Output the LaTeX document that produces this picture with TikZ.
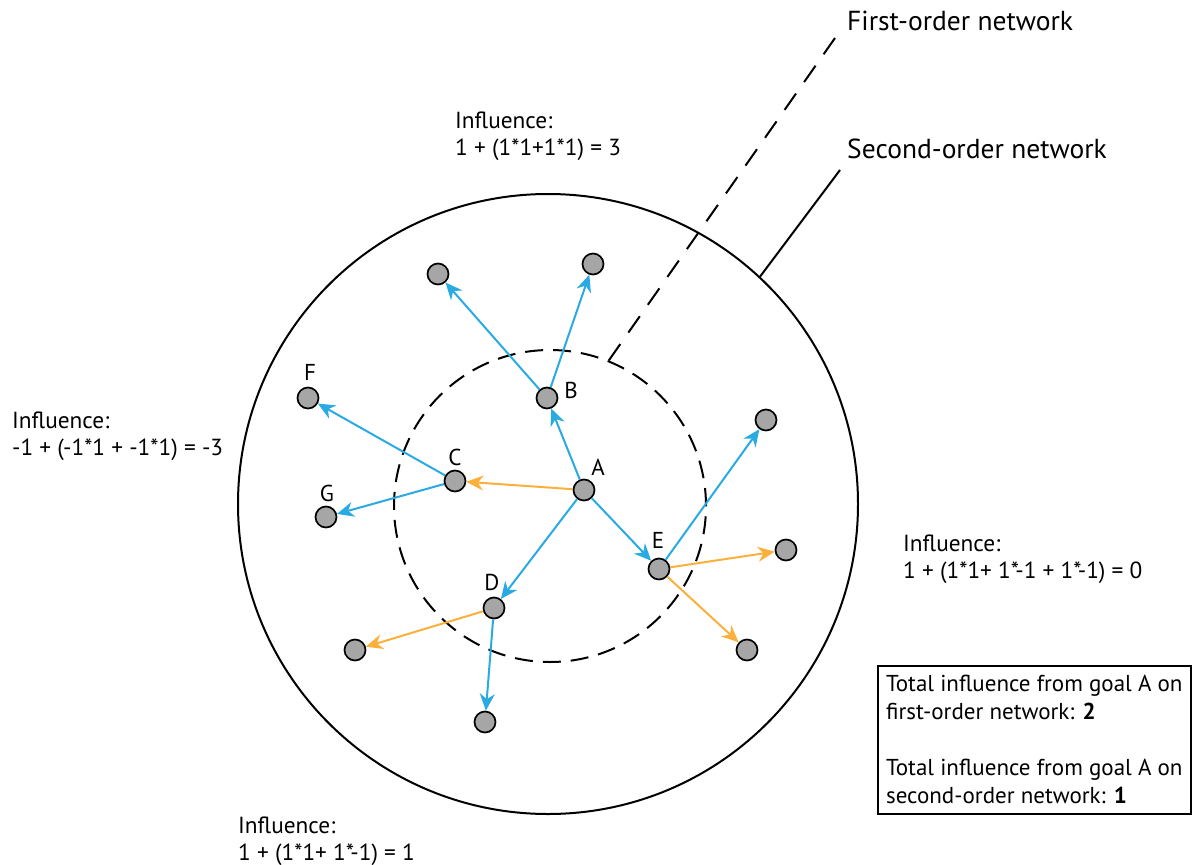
\documentclass[tikz,border=0pt]{standalone}
\usepackage{fontspec}
\setmainfont{PT Sans}
\usetikzlibrary{arrows.meta}
\definecolor{cblue}{RGB}{41,171,226}
\definecolor{corange}{RGB}{251,176,59}
\definecolor{cgrey}{RGB}{166,166,166}
\tikzset{
  goal/.style={circle, draw=black, line width=1.7pt, fill=cgrey, minimum size=21pt, inner sep=0pt},
  lbl/.style={font=\fontsize{23}{28}\selectfont, inner sep=0pt},
  txt/.style={font=\fontsize{23.3}{27}\selectfont, inner sep=0pt, anchor=base west, align=left},
  ttl/.style={font=\fontsize{27.5}{32}\selectfont, inner sep=0pt, anchor=base west},
  link/.style={line width=2pt, -{Stealth[length=17pt, width=15pt, inset=5.5pt]}},
  poslink/.style={link, draw=cblue},
  neglink/.style={link, draw=corange},
  ring/.style={circle, draw=black, line width=2pt, inner sep=0pt},
}
\begin{document}
\begin{tikzpicture}[x=1pt, y=-1pt]
\useasboundingbox (0,0) rectangle (1192,865);
% rings
\node[ring, minimum size=620pt] (outer) at (548,504) {};
\node[ring, minimum size=312pt, dash pattern=on 18pt off 10pt] (inner) at (550,506) {};
\coordinate (firstend) at (835,38);
\coordinate (secondend) at (840,170);
\draw[line width=2pt, dash pattern=on 20pt off 14pt] (inner.68.4) -- (firstend);
\draw[line width=2pt] (outer.47.2) -- (secondend);
% goals
\node[goal] (A) at (584,490) {};
\node[goal] (B) at (547,398) {};
\node[goal] (C) at (455,481) {};
\node[goal] (D) at (494,608) {};
\node[goal] (E) at (659,569) {};
\node[goal] (F) at (308,398) {};
\node[goal] (G) at (326,517) {};
\node[goal] (B1) at (438,274) {};
\node[goal] (B2) at (593,264) {};
\node[goal] (E1) at (766,420) {};
\node[goal] (E2) at (786,550) {};
\node[goal] (E3) at (747,650) {};
\node[goal] (D1) at (355,650) {};
\node[goal] (D2) at (485,722) {};
% labels
\node[lbl] (lA) at (598,467) {A};
\node[lbl] (lB) at (571,390) {B};
\node[lbl] (lC) at (455,457) {C};
\node[lbl] (lD) at (492,582) {D};
\node[lbl] (lE) at (658,540) {E};
\node[lbl] (lF) at (310,372) {F};
\node[lbl] (lG) at (327,493) {G};
% links
\draw[poslink] (A) -- (B);
\draw[neglink] (A) -- (C);
\draw[poslink] (A) -- (D);
\draw[poslink] (A) -- (E);
\draw[poslink] (B) -- (B1);
\draw[poslink] (B) -- (B2);
\draw[poslink] (C) -- (F);
\draw[poslink] (C) -- (G);
\draw[neglink] (D) -- (D1);
\draw[poslink] (D) -- (D2);
\draw[poslink] (E) -- (E1);
\draw[neglink] (E) -- (E2);
\draw[neglink] (E) -- (E3);
% texts (base anchor = baseline of last line)
\node[txt] (tB) at (455,155) {Influence:\\1 + (1*1+1*1) = 3};
\node[txt] (tC) at (12,455) {Influence:\\-1 + (-1*1 + -1*1) = -3};
\node[txt] (tE) at (903,578) {Influence:\\1 + (1*1+ 1*-1 + 1*-1) = 0};
\node[txt] (tD) at (238,860) {Influence:\\1 + (1*1+ 1*-1) = 1};
\node[ttl] (first) at (847,30) {First-order network};
\node[ttl] (second) at (847,158) {Second-order network};
\node[draw=black, line width=1.6pt, anchor=north west, align=left,
      inner xsep=8pt, inner ysep=6pt, minimum width=313pt, minimum height=148pt,
      font=\fontsize{23}{28}\selectfont] (total) at (877,665)
  {Total influence from goal A on\\first-order network: \textbf{2}\\[28pt]Total influence from goal A on\\second-order network: \textbf{1}};
\end{tikzpicture}
\end{document}
